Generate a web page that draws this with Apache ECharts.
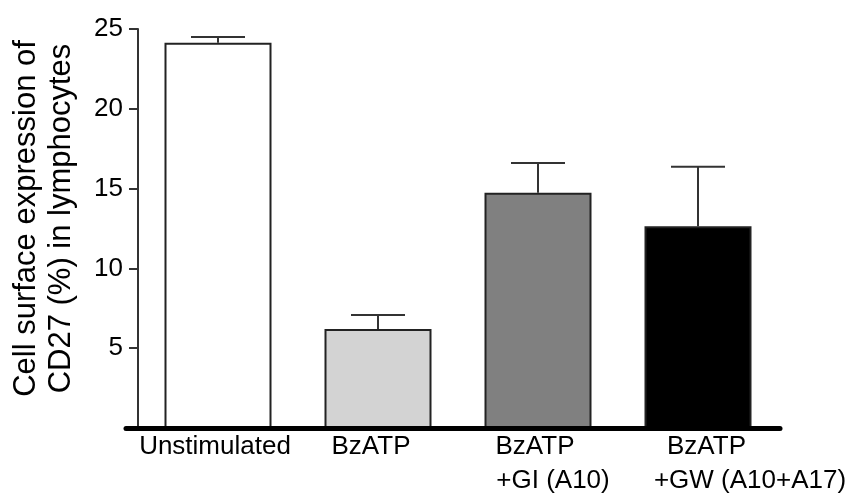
<!DOCTYPE html>
<html>
<head>
<meta charset="utf-8">
<script src="https://cdn.jsdelivr.net/npm/echarts@6/dist/echarts.min.js"></script>
<style>html,body{margin:0;padding:0;background:#fff;}#c{width:856px;height:494px;}</style>
</head>
<body>
<div id="c"></div>
<script>
const categories = ['Unstimulated', 'BzATP', 'BzATP\n+GI (A10)', 'BzATP\n+GW (A10+A17)'];
const means = [24.14, 6.2, 14.74, 12.64];
const errHigh = [24.5, 7.08, 16.6, 16.37];
const barColors = ['#ffffff', '#d3d3d3', '#808080', '#000000'];
const yMin = 0, yMax = 25, yStep = 5;
const yTitle = 'Cell surface expression of\nCD27 (%) in lymphocytes';
// horizontal shift (px) of each label line relative to the bar centre
const lineShift = [[-3], [-7], [-3, 15], [8.5, 52]];

const FONT = '"Liberation Sans", Arial, sans-serif';
const rich = {};
lineShift.forEach((arr, i) => arr.forEach((d, j) => {
  rich['s' + i + '_' + j] = {
    fontSize: 26, fontFamily: FONT, color: '#000', lineHeight: 34,
    padding: d >= 0 ? [0, 0, 0, 2 * d] : [0, -2 * d, 0, 0]
  };
}));

const chart = echarts.init(document.getElementById('c'), null, {renderer: 'canvas'});
chart.setOption({
  animation: false,
  backgroundColor: '#fff',
  grid: [
    {left: 138, right: 78, top: 29, bottom: 66, containLabel: false, outerBoundsMode: 'none'},
    {left: 126, right: 76, top: 29, bottom: 66, containLabel: false, outerBoundsMode: 'none'}
  ],
  xAxis: [{
    type: 'category', gridIndex: 0, data: categories,
    axisLine: {show: false}, axisTick: {show: false},
    axisLabel: {
      margin: 2, interval: 0, hideOverlap: false,
      formatter: (v, i) => v.split('\n').map((s, j) => '{s' + i + '_' + j + '|' + s + '}').join('\n'),
      rich: rich
    }
  }, {
    type: 'value', gridIndex: 1, min: 0, max: 1, z: 10,
    axisLine: {show: true, lineStyle: {color: '#000', width: 5}},
    axisTick: {show: false}, axisLabel: {show: false}, splitLine: {show: false}
  }],
  yAxis: [{
    type: 'value', gridIndex: 0, min: yMin, max: yMax, interval: yStep,
    name: yTitle, nameLocation: 'middle', nameGap: 59,
    nameTextStyle: {fontSize: 31, fontFamily: FONT, color: '#000', lineHeight: 35, padding: [0, 0, 0, 20]},
    axisLine: {show: true, lineStyle: {color: '#333', width: 2}},
    axisTick: {show: true, length: 9, lineStyle: {color: '#333', width: 2}},
    axisLabel: {margin: 15, fontSize: 26, fontFamily: FONT, color: '#000', formatter: v => v === 0 ? '' : v},
    splitLine: {show: false}
  }, {
    type: 'value', gridIndex: 1, min: 0, max: 1, show: false
  }],
  series: [{
    type: 'bar', xAxisIndex: 0, yAxisIndex: 0, barWidth: 107,
    data: means.map((v, i) => ({value: v, itemStyle: {color: barColors[i]}})),
    itemStyle: {borderColor: '#222', borderWidth: 2}
  }, {
    type: 'custom', xAxisIndex: 0, yAxisIndex: 0, z: 1,
    data: means.map((v, i) => [i, v, errHigh[i]]),
    renderItem: (params, api) => {
      const p0 = api.coord([api.value(0), api.value(1)]);
      const p1 = api.coord([api.value(0), api.value(2)]);
      const half = 27;
      const st = {stroke: '#333', lineWidth: 2};
      return {type: 'group', children: [
        {type: 'line', shape: {x1: p0[0], y1: p0[1], x2: p1[0], y2: p1[1]}, style: st},
        {type: 'line', shape: {x1: p1[0] - half, y1: p1[1], x2: p1[0] + half, y2: p1[1]}, style: st}
      ]};
    }
  }]
});
</script>
</body>
</html>
